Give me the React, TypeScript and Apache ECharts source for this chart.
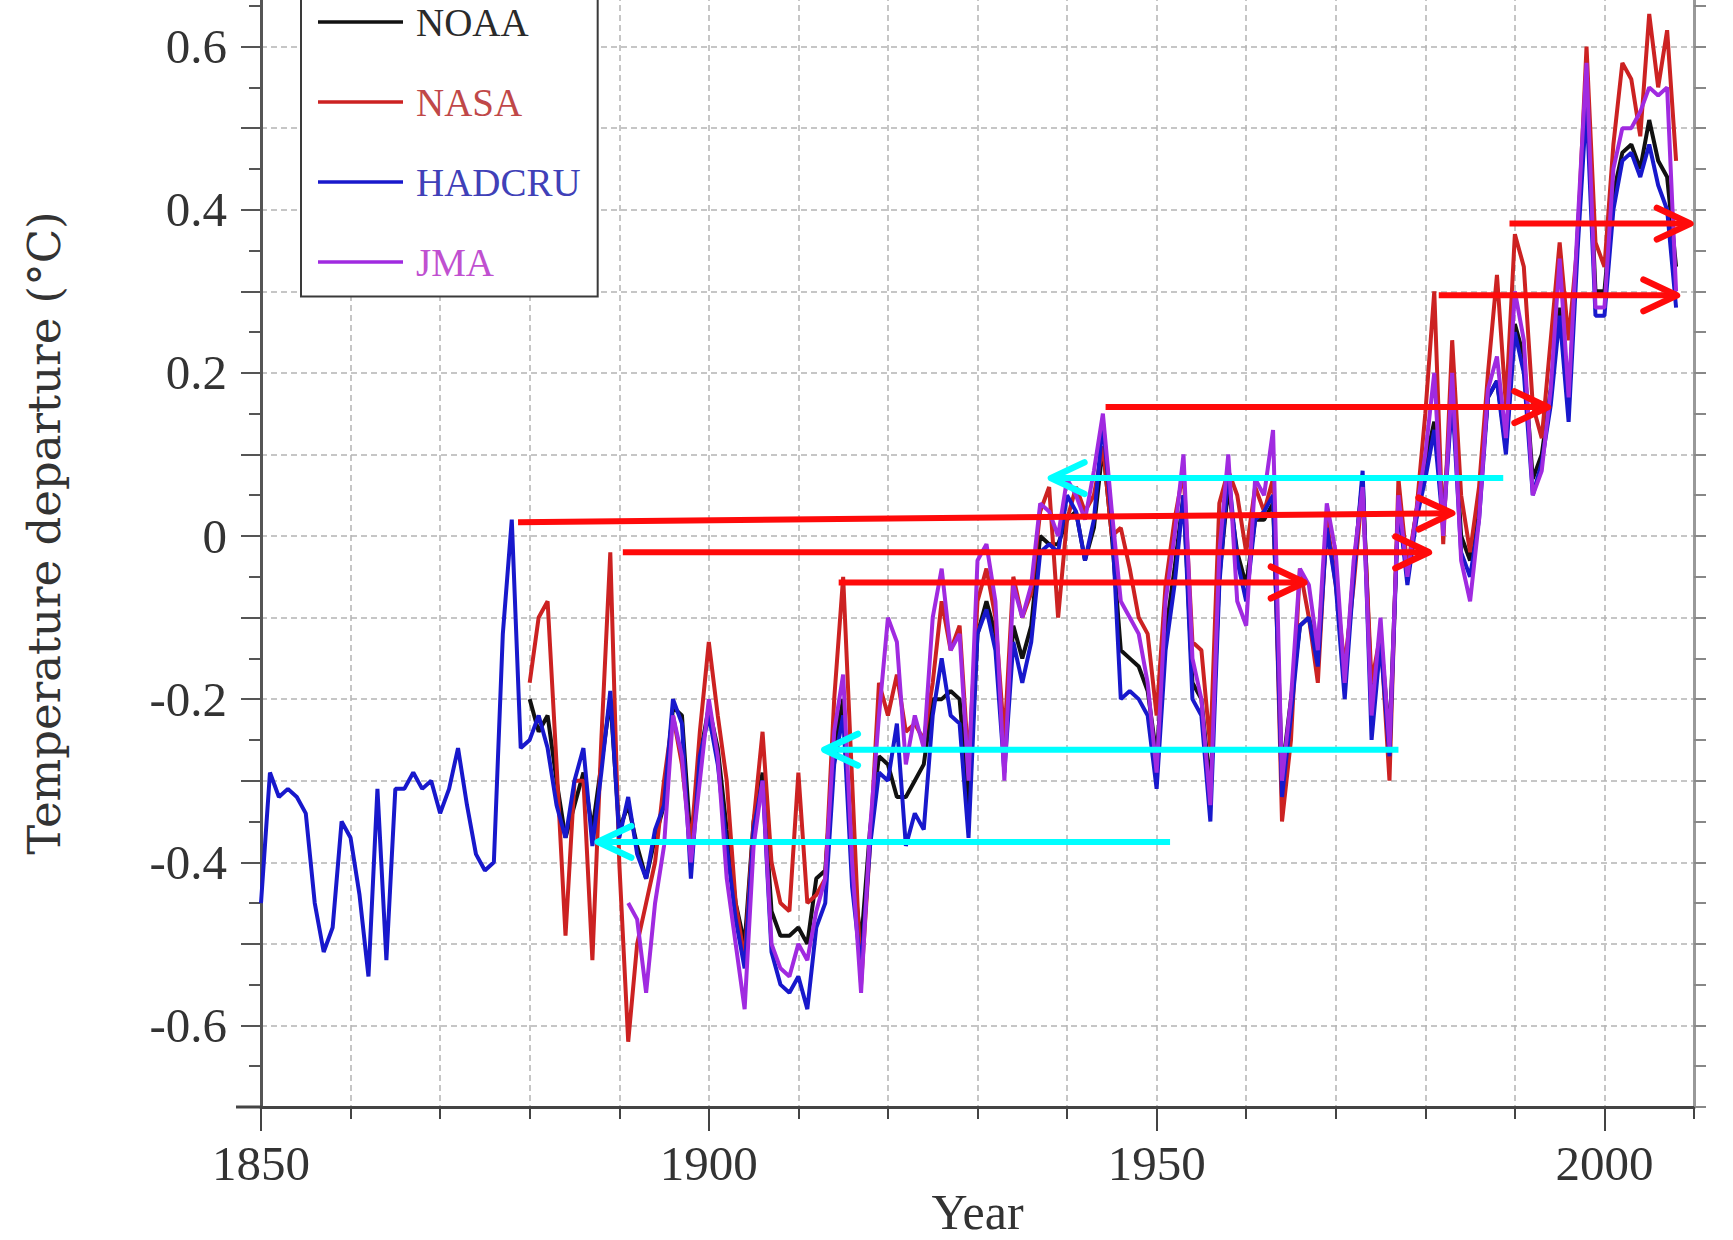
import React, { useEffect, useRef } from 'react';
import * as echarts from 'echarts';

// ---- Data (annual temperature departures, °C) ----
const HADCRU_START = 1850;
const hadcru = [
  -0.45, -0.29, -0.32, -0.31, -0.32, -0.34, -0.45, -0.51, -0.48, -0.35,
  -0.37, -0.44, -0.54, -0.31, -0.52, -0.31, -0.31, -0.29, -0.31, -0.30,
  -0.34, -0.31, -0.26, -0.33, -0.39, -0.41, -0.40, -0.12, 0.02, -0.26,
  -0.25, -0.22, -0.26, -0.33, -0.37, -0.30, -0.26, -0.38, -0.29, -0.19,
  -0.37, -0.32, -0.39, -0.42, -0.36, -0.33, -0.20, -0.23, -0.42, -0.27,
  -0.22, -0.28, -0.38, -0.47, -0.53, -0.36, -0.30, -0.51, -0.55, -0.56,
  -0.54, -0.58, -0.48, -0.45, -0.28, -0.22, -0.43, -0.53, -0.38, -0.29,
  -0.30, -0.23, -0.38, -0.34, -0.36, -0.22, -0.15, -0.22, -0.23, -0.37,
  -0.12, -0.09, -0.14, -0.29, -0.13, -0.18, -0.13, -0.02, -0.01, -0.02,
  0.05, 0.03, -0.03, 0.02, 0.14, 0.02, -0.20, -0.19, -0.20, -0.22,
  -0.31, -0.14, -0.06, 0.05, -0.20, -0.22, -0.35, -0.06, 0.08, -0.03,
  -0.08, 0.02, 0.03, 0.05, -0.32, -0.22, -0.11, -0.10, -0.16, 0.01,
  -0.06, -0.20, -0.05, 0.08, -0.25, -0.13, -0.27, 0.04, -0.06, 0.02,
  0.07, 0.13, 0.01, 0.17, -0.02, -0.05, 0.02, 0.17, 0.19, 0.10,
  0.25, 0.20, 0.05, 0.09, 0.16, 0.27, 0.14, 0.35, 0.53, 0.27,
  0.27, 0.40, 0.46, 0.47, 0.44, 0.48, 0.43, 0.40, 0.28,
];

const NOAA_START = 1880;
const noaa = [
  -0.20, -0.24, -0.22, -0.30, -0.37, -0.33, -0.29, -0.36, -0.28, -0.20,
  -0.36, -0.33, -0.38, -0.42, -0.37, -0.33, -0.21, -0.22, -0.38, -0.27,
  -0.21, -0.26, -0.36, -0.45, -0.50, -0.35, -0.29, -0.46, -0.49, -0.49,
  -0.48, -0.50, -0.42, -0.41, -0.26, -0.20, -0.40, -0.50, -0.36, -0.27,
  -0.28, -0.32, -0.32, -0.30, -0.28, -0.20, -0.20, -0.19, -0.20, -0.33,
  -0.12, -0.08, -0.12, -0.27, -0.11, -0.15, -0.11, 0.00, -0.01, -0.01,
  0.02, 0.03, -0.03, 0.01, 0.11, 0.00, -0.14, -0.15, -0.16, -0.19,
  -0.27, -0.12, -0.04, 0.05, -0.18, -0.20, -0.31, -0.05, 0.06, -0.02,
  -0.06, 0.02, 0.02, 0.04, -0.29, -0.20, -0.11, -0.10, -0.14, 0.01,
  -0.05, -0.18, -0.04, 0.07, -0.20, -0.12, -0.25, 0.04, -0.05, 0.03,
  0.09, 0.14, 0.02, 0.18, 0.00, -0.03, 0.04, 0.17, 0.19, 0.11,
  0.26, 0.22, 0.07, 0.10, 0.18, 0.28, 0.16, 0.37, 0.55, 0.30,
  0.30, 0.42, 0.47, 0.48, 0.45, 0.51, 0.46, 0.44, 0.33,
];

const NASA_START = 1880;
const nasa = [
  -0.18, -0.10, -0.08, -0.28, -0.49, -0.30, -0.30, -0.52, -0.25, -0.02,
  -0.40, -0.62, -0.50, -0.45, -0.40, -0.30, -0.22, -0.28, -0.38, -0.24,
  -0.13, -0.22, -0.30, -0.45, -0.52, -0.35, -0.24, -0.40, -0.45, -0.46,
  -0.29, -0.45, -0.44, -0.42, -0.20, -0.05, -0.30, -0.55, -0.38, -0.18,
  -0.22, -0.17, -0.24, -0.23, -0.25, -0.18, -0.08, -0.14, -0.11, -0.28,
  -0.08, -0.04, -0.10, -0.25, -0.05, -0.10, -0.07, 0.03, 0.06, -0.10,
  0.02, 0.06, 0.03, 0.05, 0.11, 0.00, 0.01, -0.04, -0.10, -0.12,
  -0.22, -0.06, 0.02, 0.08, -0.13, -0.14, -0.26, 0.04, 0.08, 0.05,
  -0.02, 0.06, 0.03, 0.07, -0.35, -0.25, -0.04, -0.10, -0.18, 0.02,
  -0.06, -0.16, -0.06, 0.06, -0.18, -0.12, -0.30, 0.07, -0.04, 0.03,
  0.15, 0.30, -0.01, 0.24, 0.05, -0.02, 0.06, 0.20, 0.32, 0.16,
  0.37, 0.33, 0.16, 0.12, 0.24, 0.36, 0.24, 0.36, 0.60, 0.36,
  0.33, 0.48, 0.58, 0.56, 0.49, 0.64, 0.55, 0.62, 0.46,
];

const JMA_START = 1891;
const jma = [
  -0.45, -0.47, -0.56, -0.45, -0.38, -0.22, -0.27, -0.40, -0.30,
  -0.20, -0.27, -0.42, -0.50, -0.58, -0.38, -0.30, -0.50, -0.53, -0.54,
  -0.50, -0.52, -0.46, -0.42, -0.24, -0.17, -0.40, -0.56, -0.36, -0.22,
  -0.10, -0.13, -0.28, -0.22, -0.26, -0.10, -0.04, -0.14, -0.12, -0.30,
  -0.03, -0.01, -0.08, -0.30, -0.06, -0.10, -0.06, 0.04, 0.03, 0.00,
  0.07, 0.05, 0.02, 0.08, 0.15, 0.03, -0.08, -0.10, -0.12, -0.18,
  -0.29, -0.08, 0.00, 0.10, -0.15, -0.20, -0.33, -0.02, 0.10, -0.08,
  -0.11, 0.07, 0.05, 0.13, -0.30, -0.20, -0.04, -0.06, -0.14, 0.04,
  -0.02, -0.18, -0.03, 0.06, -0.22, -0.10, -0.26, 0.05, -0.05, 0.03,
  0.10, 0.20, 0.00, 0.20, -0.03, -0.08, 0.02, 0.18, 0.22, 0.12,
  0.30, 0.24, 0.05, 0.08, 0.18, 0.34, 0.17, 0.38, 0.58, 0.28,
  0.28, 0.45, 0.50, 0.50, 0.52, 0.55, 0.54, 0.55, 0.30,
];

// Annotation arrows: [fromYear, fromValue, toYear (tip), toValue]
const redArrows = [
  [1878.7, 0.017, 1983.0, 0.028],
  [1890.4, -0.02, 1980.4, -0.02],
  [1914.5, -0.057, 1966.5, -0.057],
  [1944.3, 0.158, 1993.7, 0.158],
  [1981.5, 0.295, 2008.1, 0.295],
  [1989.4, 0.383, 2009.6, 0.383],
];
const cyanArrows = [
  [1988.7, 0.071, 1938.2, 0.071],
  [1977.0, -0.262, 1912.9, -0.262],
  [1951.5, -0.375, 1887.6, -0.375],
];

const xLabelYears = [1850, 1900, 1950, 2000];
const yLabelValues = [-0.6, -0.4, -0.2, 0, 0.2, 0.4, 0.6];

const seriesDefs = [
  { name: 'NOAA', start: NOAA_START, values: noaa, color: '#111111', text: '#2a2a2a' },
  { name: 'NASA', start: NASA_START, values: nasa, color: '#cc2222', text: '#c04848' },
  { name: 'HADCRU', start: HADCRU_START, values: hadcru, color: '#1818cc', text: '#4040b8' },
  { name: 'JMA', start: JMA_START, values: jma, color: '#a02ae0', text: '#c050d0' },
];

const toPairs = (start: number, vals: number[]) => vals.map((v, i) => [start + i, v]);

const arrowRenderer = (color: string) => (params: any, api: any) => {
  const s = api.coord([api.value(0), api.value(1)]);
  const e = api.coord([api.value(2), api.value(3)]);
  const ang = Math.atan2(e[1] - s[1], e[0] - s[0]);
  const L = 37;
  const th = 0.44;
  const p1 = [e[0] - L * Math.cos(ang - th), e[1] - L * Math.sin(ang - th)];
  const p2 = [e[0] - L * Math.cos(ang + th), e[1] - L * Math.sin(ang + th)];
  return {
    type: 'group',
    children: [
      {
        type: 'line',
        shape: { x1: s[0], y1: s[1], x2: e[0], y2: e[1] },
        style: { stroke: color, lineWidth: 6, lineCap: 'butt' },
      },
      {
        type: 'polyline',
        shape: { points: [p1, e, p2] },
        style: { stroke: color, lineWidth: 6.5, fill: null, lineCap: 'round', lineJoin: 'round' },
      },
    ],
  };
};

const fmtY = (v: number) => (Math.abs(v) < 1e-9 ? '0' : v.toFixed(1));

export default function App() {
  const ref = useRef<HTMLDivElement>(null);

  useEffect(() => {
    document.body.style.margin = '0';
    if (!ref.current) return;
    const chart = echarts.init(ref.current, undefined, { renderer: 'svg' });

    const lineSeries = seriesDefs.map((d) => ({
      name: d.name,
      type: 'line',
      data: toPairs(d.start, d.values),
      showSymbol: false,
      symbol: 'none',
      lineStyle: { color: d.color, width: 4 },
      itemStyle: { color: d.color },
      xAxisIndex: 0,
      yAxisIndex: 0,
      z: 2,
    }));

    const option: any = {
      animation: false,
      backgroundColor: '#ffffff',
      textStyle: { fontFamily: 'Liberation Serif' },
      grid: {
        left: 261,
        right: 39,
        top: -35,
        bottom: 133,
        containLabel: false,
        outerBoundsMode: 'none',
      },
      legend: {
        orient: 'vertical',
        left: 301,
        top: -12.5,
        padding: [15, 17, 15, 17],
        icon: 'rect',
        itemWidth: 85,
        itemHeight: 3.5,
        itemGap: 41,
        backgroundColor: '#ffffff',
        borderColor: '#3a3a3a',
        borderWidth: 2,
        borderRadius: 0,
        selectedMode: false,
        textStyle: { fontSize: 39, fontFamily: 'Liberation Serif', padding: [0, 0, 0, 8] },
        data: seriesDefs.map((d) => ({ name: d.name, textStyle: { color: d.text } })),
        z: 6,
      },
      xAxis: [
        {
          type: 'value',
          position: 'bottom',
          min: 1850,
          max: 2010,
          interval: 10,
          axisLine: { show: true, onZero: false, lineStyle: { color: '#444', width: 3 } },
          axisTick: { show: true, length: 12, lineStyle: { color: '#444', width: 2 } },
          axisLabel: { show: false },
          splitLine: { show: true, lineStyle: { color: '#b4b4b4', width: 1.5, type: [6, 4] } },
        },
        {
          type: 'value',
          position: 'bottom',
          min: 1850,
          max: 2010,
          axisLine: { show: false, onZero: false },
          axisTick: {
            show: true,
            length: 24,
            customValues: xLabelYears,
            lineStyle: { color: '#444', width: 2 },
          },
          axisLabel: {
            show: true,
            customValues: xLabelYears,
            margin: 32,
            fontSize: 49,
            fontFamily: 'Liberation Serif',
            color: '#333',
            formatter: (v: number) => String(v),
          },
          splitLine: { show: false },
          name: 'Year',
          nameLocation: 'middle',
          nameGap: 80,
          nameMoveOverlap: false,
          nameTextStyle: { fontSize: 50, fontFamily: 'Liberation Serif', color: '#333' },
        },
      ],
      yAxis: [
        {
          type: 'value',
          position: 'left',
          min: -0.7,
          max: 0.7,
          interval: 0.1,
          axisLine: { show: true, onZero: false, lineStyle: { color: '#555', width: 3 } },
          axisTick: { show: true, length: 20, lineStyle: { color: '#555', width: 2 } },
          minorTick: { show: true, splitNumber: 2, length: 12, lineStyle: { color: '#555', width: 2 } },
          axisLabel: {
            show: true,
            customValues: yLabelValues,
            margin: 34,
            fontSize: 49,
            fontFamily: 'Liberation Serif',
            color: '#333',
            formatter: fmtY,
          },
          splitLine: { show: true, lineStyle: { color: '#b4b4b4', width: 1.5, type: [6, 4] } },
        },
        {
          type: 'value',
          position: 'right',
          min: -0.7,
          max: 0.7,
          interval: 0.1,
          axisLine: { show: true, onZero: false, lineStyle: { color: '#999', width: 3 } },
          axisTick: { show: true, length: 12, lineStyle: { color: '#888', width: 2 } },
          minorTick: { show: true, splitNumber: 2, length: 12, lineStyle: { color: '#888', width: 2 } },
          axisLabel: { show: false },
          splitLine: { show: false },
        },
      ],
      graphic: [
        {
          type: 'line',
          shape: { x1: 236, y1: 1107, x2: 262, y2: 1107 },
          style: { stroke: '#444', lineWidth: 3 },
          z: 10,
        },
        {
          type: 'text',
          x: 44,
          y: 533,
          rotation: Math.PI / 2,
          style: {
            text: 'Temperature departure (°C)',
            font: '45px "DejaVu Serif"',
            fill: '#333',
            align: 'center',
            verticalAlign: 'middle',
            textAlign: 'center',
            textVerticalAlign: 'middle',
          },
        },
      ],
      series: [
        ...lineSeries,
        {
          name: 'redArrows',
          type: 'custom',
          xAxisIndex: 0,
          yAxisIndex: 0,
          data: redArrows,
          renderItem: arrowRenderer('#ff0a0a'),
          z: 5,
          silent: true,
        },
        {
          name: 'cyanArrows',
          type: 'custom',
          xAxisIndex: 0,
          yAxisIndex: 0,
          data: cyanArrows,
          renderItem: arrowRenderer('#00ffff'),
          z: 5,
          silent: true,
        },
      ],
    };

    chart.setOption(option);
    return () => chart.dispose();
  }, []);

  return <div ref={ref} style={{ width: 1733, height: 1240 }} />;
}
